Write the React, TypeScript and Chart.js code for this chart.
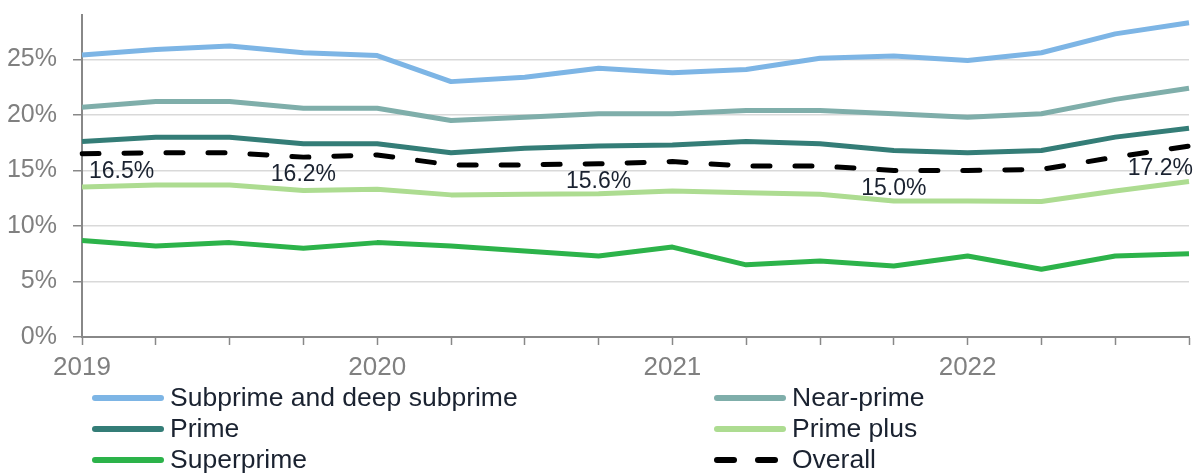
import React, { useEffect, useRef } from 'react';
import { Chart, registerables } from 'chart.js';

Chart.register(...registerables);

const FONT = "'Liberation Sans', Arial, sans-serif";

const quarters = [
  '2019 Q1', '2019 Q2', '2019 Q3', '2019 Q4',
  '2020 Q1', '2020 Q2', '2020 Q3', '2020 Q4',
  '2021 Q1', '2021 Q2', '2021 Q3', '2021 Q4',
  '2022 Q1', '2022 Q2', '2022 Q3', '2022 Q4',
];

const subprime = [25.4, 25.9, 26.2, 25.6, 25.35, 23.0, 23.4, 24.2, 23.8, 24.1, 25.1, 25.3, 24.9, 25.6, 27.3, 28.3];
const nearPrime = [20.7, 21.2, 21.2, 20.6, 20.6, 19.5, 19.8, 20.1, 20.1, 20.4, 20.4, 20.1, 19.8, 20.1, 21.4, 22.4];
const prime = [17.6, 18.0, 18.0, 17.4, 17.4, 16.6, 17.0, 17.2, 17.3, 17.6, 17.4, 16.8, 16.6, 16.8, 18.0, 18.8];
const primePlus = [13.5, 13.7, 13.7, 13.2, 13.3, 12.8, 12.85, 12.9, 13.15, 13.0, 12.85, 12.25, 12.25, 12.2, 13.15, 14.0];
const superprime = [8.7, 8.2, 8.5, 8.0, 8.5, 8.2, 7.75, 7.3, 8.1, 6.5, 6.85, 6.4, 7.3, 6.1, 7.3, 7.5];
const overall = [16.5, 16.6, 16.6, 16.2, 16.4, 15.5, 15.5, 15.6, 15.8, 15.4, 15.4, 15.0, 15.0, 15.1, 16.2, 17.2];

const labelledIndices = [0, 3, 7, 11, 15];
const yTickValues = [0, 5, 10, 15, 20, 25];

const seriesNames = ['Subprime and deep subprime', 'Near-prime', 'Prime', 'Prime plus', 'Superprime', 'Overall'];
const seriesColors = ['#7DB5E5', '#7FAEAA', '#347D77', '#ADDC91', '#2CB34A', '#000000'];
const seriesData = [subprime, nearPrime, prime, primePlus, superprime, overall];

const TEXT_DARK = '#1a2230';
const AXIS_GRAY = '#888888';

function lineYAt(points: any[], x: number): number {
  for (let k = 0; k < points.length - 1; k++) {
    const a = points[k];
    const b = points[k + 1];
    if (x >= a.x && x <= b.x) {
      const t = (x - a.x) / (b.x - a.x || 1);
      return a.y + (b.y - a.y) * t;
    }
  }
  return x < points[0].x ? points[0].y : points[points.length - 1].y;
}

const overallLabels = {
  id: 'overallLabels',
  afterDatasetsDraw(chart: any) {
    const meta = chart.getDatasetMeta(5);
    const pts = meta.data;
    const ctx = chart.ctx;
    ctx.save();
    ctx.font = `23px ${FONT}`;
    ctx.fillStyle = TEXT_DARK;
    ctx.textBaseline = 'middle';
    const last = overall.length - 1;
    labelledIndices.forEach((i) => {
      const pt = pts[i];
      if (!pt) return;
      const text = overall[i].toFixed(1) + '%';
      const w = ctx.measureText(text).width;
      let x = pt.x;
      let cx = pt.x;
      if (i === 0) {
        ctx.textAlign = 'left';
        x = pt.x + 7;
        cx = x + w / 2;
      } else if (i === last) {
        ctx.textAlign = 'right';
        x = pt.x + 4;
        cx = x - w / 2;
      } else {
        ctx.textAlign = 'center';
      }
      const baseY = lineYAt(pts, cx);
      ctx.fillText(text, x, baseY + 18);
    });
    ctx.restore();
  },
};

export default function App() {
  const ref = useRef<HTMLCanvasElement>(null);

  useEffect(() => {
    if (!ref.current) return;
    const chart = new Chart(ref.current, {
      type: 'line',
      data: {
        labels: quarters,
        datasets: seriesNames.map((name, i) => ({
          label: name,
          data: seriesData[i],
          borderColor: seriesColors[i],
          backgroundColor: seriesColors[i],
          borderWidth: 5,
          pointRadius: 0,
          pointHoverRadius: 0,
          tension: 0,
          fill: false,
          borderJoinStyle: 'round' as const,
          borderCapStyle: (i === 5 ? 'round' : 'butt') as any,
          borderDash: i === 5 ? [17, 25] : [],
          order: i === 5 ? 0 : 1,
        })),
      },
      options: {
        responsive: false,
        animation: false,
        devicePixelRatio: 1,
        layout: { padding: { left: 0, right: 9, top: 15, bottom: 86 } },
        plugins: {
          legend: { display: false },
          tooltip: { enabled: false },
        },
        scales: {
          x: {
            type: 'category',
            offset: false,
            border: { display: true, color: AXIS_GRAY, width: 2 },
            grid: {
              drawOnChartArea: false,
              drawTicks: true,
              tickLength: 8,
              tickColor: AXIS_GRAY,
              tickWidth: 1.5,
            },
            ticks: {
              autoSkip: false,
              maxRotation: 0,
              minRotation: 0,
              padding: 7,
              color: '#808080',
              font: { family: FONT, size: 26 },
              callback: (_v: any, idx: number) => {
                const q = quarters[idx];
                return q.endsWith('Q1') ? q.slice(0, 4) : '';
              },
            },
            afterFit: (s: any) => {
              s.height = 50;
              s.paddingLeft = 0;
              s.paddingRight = 0;
            },
          },
          y: {
            type: 'linear',
            min: 0,
            max: 29,
            border: { display: true, color: AXIS_GRAY, width: 2 },
            grid: {
              color: (c: any) => (c.tick && c.tick.value === 0 ? 'rgba(0,0,0,0)' : '#d9d9d9'),
              lineWidth: 1.5,
              drawTicks: true,
              tickLength: 9,
              tickColor: AXIS_GRAY,
              tickWidth: 1.5,
            },
            ticks: {
              padding: 16,
              color: '#808080',
              font: { family: FONT, size: 25 },
              callback: (v: any) => `${v}%`,
            },
            afterBuildTicks: (s: any) => {
              s.ticks = yTickValues.map((v) => ({ value: v }));
            },
            afterFit: (s: any) => {
              s.width = 82;
              s.paddingTop = 0;
              s.paddingBottom = 0;
            },
          },
        },
      } as any,
      plugins: [overallLabels],
    });
    return () => chart.destroy();
  }, []);

  const legendOrder = [0, 1, 2, 3, 4, 5];

  return (
    <div style={{ position: 'fixed', left: 0, top: 0, width: 1198, height: 473, background: '#ffffff', overflow: 'hidden' }}>
      <canvas ref={ref} width={1198} height={473} style={{ position: 'absolute', left: 0, top: 0, width: 1198, height: 473 }} />
      <div
        style={{
          position: 'absolute',
          left: 92,
          top: 382,
          display: 'grid',
          gridTemplateColumns: '622px auto',
          gridAutoRows: '31px',
          fontFamily: FONT,
          fontSize: 26.5,
          lineHeight: '31px',
          color: TEXT_DARK,
        }}
      >
        {legendOrder.map((i) => (
          <div key={i} style={{ display: 'flex', alignItems: 'center', height: 31, whiteSpace: 'nowrap' }}>
            <div style={{ width: 72, marginRight: 6, display: 'flex', alignItems: 'center', height: 6 }}>
              {i === 5 ? (
                <>
                  <div style={{ width: 23, height: 6, borderRadius: 3, background: seriesColors[i] }} />
                  <div style={{ width: 18 }} />
                  <div style={{ width: 23, height: 6, borderRadius: 3, background: seriesColors[i] }} />
                </>
              ) : (
                <div style={{ width: 72, height: 6, borderRadius: 3, background: seriesColors[i] }} />
              )}
            </div>
            <span>{seriesNames[i]}</span>
          </div>
        ))}
      </div>
    </div>
  );
}
